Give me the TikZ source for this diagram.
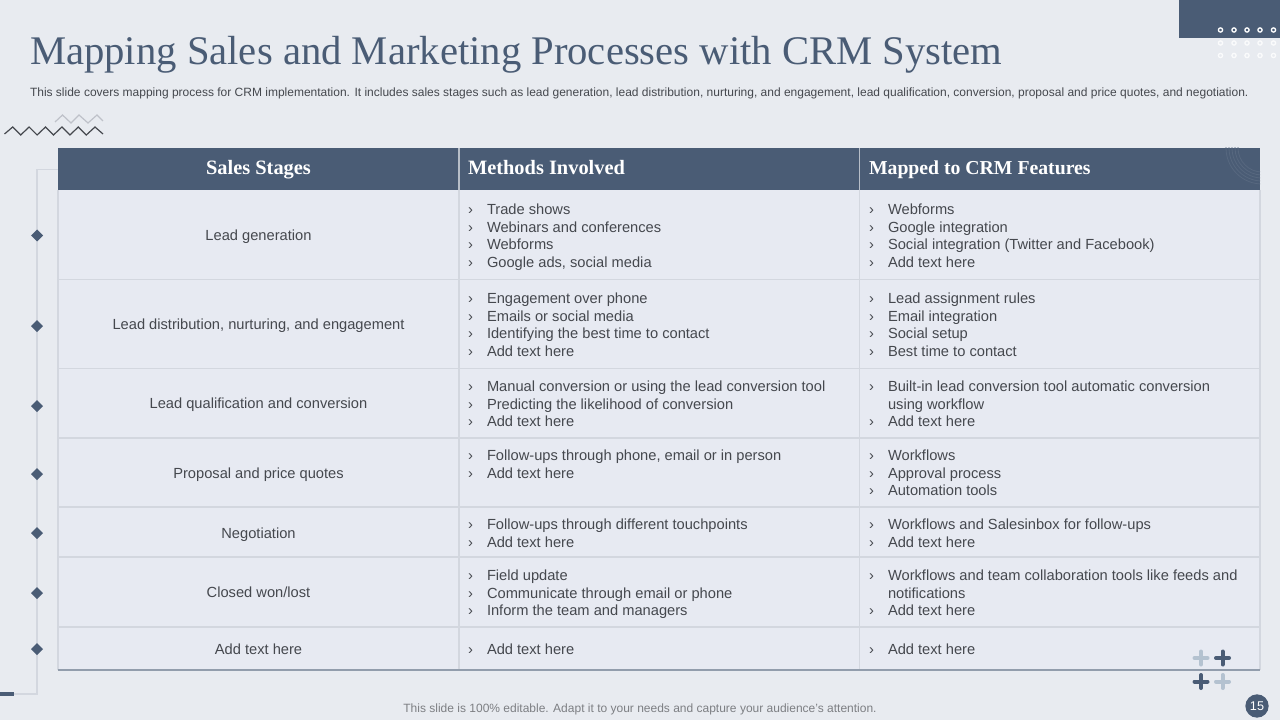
\documentclass[tikz,border=0pt]{standalone}
\usepackage{fontspec}
\setmainfont{Liberation Sans}
\newfontfamily\titlefont{Liberation Serif}
\usetikzlibrary{shapes.geometric}

\definecolor{pagebg}{HTML}{E8EBF0}
\definecolor{cellbg}{HTML}{E7EAF2}
\definecolor{slate}{HTML}{4A5C75}
\definecolor{gridline}{HTML}{D3D7DF}
\definecolor{bodytext}{HTML}{45484E}
\definecolor{palesteel}{HTML}{B4C2D0}

\newcommand{\itemline}[4]{%
  \node[itemMark] (#1M) at (#2,#3) {›};
  \node[itemText] (#1T) at (#2+19,#3) {#4};
}

\begin{document}
\begin{tikzpicture}[x=0.75pt,y=-0.75pt,
        every node/.style={inner sep=0pt, outer sep=0pt},
        itemMark/.style={anchor=base west, font=\fontsize{11pt}{13pt}\selectfont, text=bodytext},
        itemText/.style={anchor=base west, font=\fontsize{11pt}{13pt}\selectfont, text=bodytext},
        stageText/.style={anchor=base, font=\fontsize{11pt}{13pt}\selectfont, text=bodytext},
        headText/.style={anchor=base west, font=\titlefont\bfseries\fontsize{15.3pt}{17pt}\selectfont, text=white},
        rowLine/.style={draw=gridline, line width=1pt},
        stageMark/.style={diamond, fill=slate, minimum width=9pt, minimum height=9pt},
        plusDark/.style={draw=slate, line width=3pt, line cap=round},
        plusPale/.style={draw=palesteel, line width=3pt, line cap=round},
        ringDot/.style={draw=white, line width=1pt}
    ]
    \useasboundingbox (0,0) rectangle (1280,720);
    \fill[pagebg] (0,0) rectangle (1280,720);

    % top corner
    \fill[slate] (1179,0) rectangle (1280,38);
    \foreach \x in {1220.5,1234,1247,1260,1273.5} {
        \draw[ringDot] (\x,30) circle (2.1);
        \draw[ringDot, opacity=0.8] (\x,43) circle (2.1);
        \draw[ringDot, opacity=0.8] (\x,55.5) circle (2.1);
    }

    % title
    \node[anchor=base west, font=\titlefont\fontsize{30.5pt}{33pt}\selectfont, text=slate] (titleNode) at (30,64.5)
        {Mapping Sales and Marketing Processes with CRM System};
    \node[anchor=base west, font=\fontsize{9pt}{11pt}\selectfont, text=bodytext] (subNode) at (30,96.5)
        {This slide covers mapping process for CRM implementation. It includes sales stages such as lead generation, lead distribution, nurturing, and engagement, lead qualification, conversion, proposal and price quotes, and negotiation.};

    % zigzags
    \draw[line width=0.9pt, draw=gridline!90!black] (55,122)
        -- (62.5,115) -- (71,123) -- (79,115) -- (88,123) -- (97,115) -- (103,121);
    \draw[line width=0.9pt, draw=bodytext] (4.5,134)
        \foreach \i in {0,...,4} { -- ({12.7+\i*16.4},127) -- ({20.7+\i*16.4},135) } -- (95,127) -- (103,134);

    % table
    \fill[cellbg] (58,190) rectangle (1260,670);
    \fill[slate] (58,148) rectangle (1260,190);
    \begin{scope}
        \clip (58,148) rectangle (1260,190);
        \foreach \r in {24,27,30,33,36} { \draw[slate!93!white, line width=0.6pt] (1262,148) circle (\r); }
    \end{scope}
    \foreach \y in {279.5,368.5,438,507,557,627} { \draw[rowLine] (58,\y) -- (1260,\y); }
    \foreach \x in {58,459,859.5,1260} { \draw[rowLine] (\x,190) -- (\x,670); }
    \draw[draw=white!60!slate, line width=0.8pt] (459,148) -- (459,190);
    \draw[draw=white!60!slate, line width=0.8pt] (859.5,148) -- (859.5,190);
    \draw[draw=white!40!slate, line width=1.4pt] (58,670) -- (1260,670);

    % timeline on the left
    \draw[draw=gridline, line width=0.8pt] (58,169.5) -- (37,169.5) -- (37,694) -- (14,694);
    \fill[slate] (0,692) rectangle (14,696);
    \foreach \y [count=\i] in {235.5,326,406,474,533,593,649} { \node[stageMark] (stage\i) at (37,\y) {}; }

    % heads
    \node[headText, anchor=base] (headA) at (258.5,175) {Sales Stages};
    \node[headText] (headB) at (468,175) {Methods Involved};
    \node[headText, font=\titlefont\bfseries\fontsize{14.8pt}{17pt}\selectfont] (headC) at (869,175) {Mapped to CRM Features};

    % first column
    \node[stageText] (rowA) at (258.5,240) {Lead generation};
    \node[stageText] (rowB) at (258.5,329) {Lead distribution, nurturing, and engagement};
    \node[stageText] (rowC) at (258.5,408) {Lead qualification and conversion};
    \node[stageText] (rowD) at (258.5,478) {Proposal and price quotes};
    \node[stageText] (rowE) at (258.5,538) {Negotiation};
    \node[stageText] (rowF) at (258.5,597) {Closed won/lost};
    \node[stageText] (rowG) at (258.5,654) {Add text here};

    % second column
    \itemline{ba}{468}{214.3}{Trade shows}
    \itemline{bb}{468}{232.3}{Webinars and conferences}
    \itemline{bc}{468}{249.3}{Webforms}
    \itemline{bd}{468}{267.3}{Google ads, social media}
    \itemline{be}{468}{303.3}{Engagement over phone}
    \itemline{bf}{468}{321.3}{Emails or social media}
    \itemline{bg}{468}{338.3}{Identifying the best time to contact}
    \itemline{bh}{468}{356.3}{Add text here}
    \itemline{bi}{468}{391.3}{Manual conversion or using the lead conversion tool}
    \itemline{bj}{468}{409.3}{Predicting the likelihood of conversion}
    \itemline{bk}{468}{426.3}{Add text here}
    \itemline{bl}{468}{460.3}{Follow-ups through phone, email or in person}
    \itemline{bm}{468}{478.3}{Add text here}
    \itemline{bn}{468}{529.3}{Follow-ups through different touchpoints}
    \itemline{bo}{468}{547.3}{Add text here}
    \itemline{bp}{468}{580.3}{Field update}
    \itemline{bq}{468}{598.3}{Communicate through email or phone}
    \itemline{br}{468}{615.3}{Inform the team and managers}
    \itemline{bs}{468}{654.3}{Add text here}

    % third column
    \itemline{ca}{869}{214.3}{Webforms}
    \itemline{cb}{869}{232.3}{Google integration}
    \itemline{cc}{869}{249.3}{Social integration (Twitter and Facebook)}
    \itemline{cd}{869}{267.3}{Add text here}
    \itemline{ce}{869}{303.3}{Lead assignment rules}
    \itemline{cf}{869}{321.3}{Email integration}
    \itemline{cg}{869}{338.3}{Social setup}
    \itemline{ch}{869}{356.3}{Best time to contact}
    \itemline{ci}{869}{391.3}{Built-in lead conversion tool automatic conversion}
    \node[itemText] (cj) at (888,409.3) {using workflow};
    \itemline{ck}{869}{426.3}{Add text here}
    \itemline{cl}{869}{460.3}{Workflows}
    \itemline{cm}{869}{478.3}{Approval process}
    \itemline{cn}{869}{495.3}{Automation tools}
    \itemline{co}{869}{529.3}{Workflows and Salesinbox for follow-ups}
    \itemline{cp}{869}{547.3}{Add text here}
    \itemline{cq}{869}{580.3}{Workflows and team collaboration tools like feeds and}
    \node[itemText] (cr) at (888,598.3) {notifications};
    \itemline{cs}{869}{615.3}{Add text here}
    \itemline{ct}{869}{654.3}{Add text here}

    % plus marks
    \draw[plusPale] (1194.5,658) -- (1207.5,658) (1201,651.5) -- (1201,664.5);
    \draw[plusDark] (1216,658) -- (1229,658) (1222.5,651.5) -- (1222.5,664.5);
    \draw[plusDark] (1194.5,681.5) -- (1207.5,681.5) (1201,675) -- (1201,688);
    \draw[plusPale] (1216,681.5) -- (1229,681.5) (1222.5,675) -- (1222.5,688);

    % footer
    \node[anchor=center, font=\fontsize{9pt}{11pt}\selectfont, text=bodytext!70!white] (footNode) at (640,709)
        {This slide is 100\% editable. Adapt it to your needs and capture your audience's attention.};
    \node[circle, fill=slate, minimum size=17.5pt, text=white, font=\fontsize{9.5pt}{11pt}\selectfont] (pageNode) at (1257,706) {15};
\end{tikzpicture}
\end{document}
